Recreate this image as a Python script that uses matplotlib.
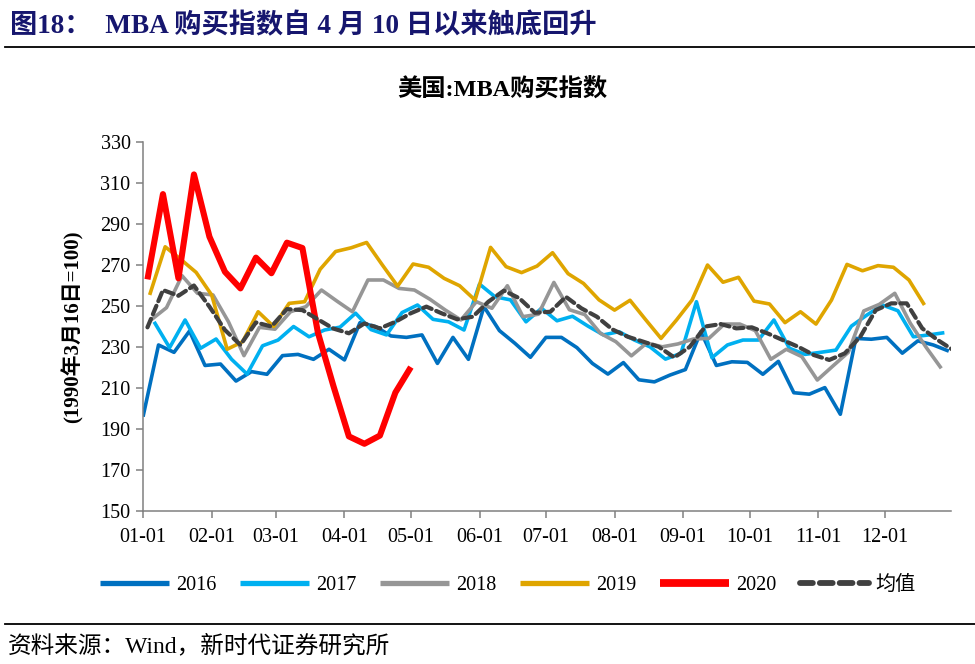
import matplotlib
matplotlib.use("Agg")
import matplotlib.pyplot as plt
import numpy as np

plt.rcParams['font.family'] = ['Liberation Serif', 'Noto Sans CJK SC']

# ---- data (weekly MBA purchase index) ----
years = ["2016", "2017", "2018", "2019", "2020", "均值"]
start_day = [0, 5, 3.6, 3, 2, 2]   # day-of-year of first weekly point

v2016 = [196, 231, 227.4, 237.8, 221, 221.7, 213.4, 218, 216.7, 225.8, 226.4, 224,
         228.9, 223.7, 241.9, 240, 235.4, 234.7, 235.9, 222, 234.7, 224, 249.7, 238,
         231.8, 225, 234.7, 234.7, 229.7, 222, 216.8, 222.4, 214, 213, 216.3, 219,
         237.5, 221, 222.8, 222.5, 216.7, 223, 207.7, 207, 210.2, 197.2, 234.2, 233.8,
         234.7, 227, 233, 231, 228]
v2017 = [242.3, 229.7, 243.2, 229.4, 233.9, 224, 216.8, 230.6, 233.4, 240, 235, 238.3,
         239.7, 246.5, 238.5, 235.9, 246.8, 250.5, 243.5, 242.3, 238.3, 260.7, 254.5, 253,
         242.3, 248.9, 242.8, 245, 240.2, 235.9, 237.5, 233.4, 230.1, 224.1, 226.9, 252.1,
         224.8, 231, 233.4, 233.4, 243.2, 229.4, 226.4, 227.4, 228.5, 240.2, 245.6, 250.5,
         247.7, 235, 235.9, 237]
v2018 = [243.2, 249.2, 264.8, 256.2, 255.4, 242.3, 225.8, 239.6, 238.7, 247.2, 249.7, 257.8,
         252.4, 247.2, 262.7, 262.7, 258.6, 257.8, 253.3, 248, 243.2, 252.1, 248.9, 259.9,
         244.8, 246, 261.5, 248.2, 245.8, 236.7, 232.6, 225.7, 232, 230.1, 231.5, 233.9,
         234.2, 241.2, 241.2, 238, 224, 228.9, 225.3, 213.9, 220.7, 227.4, 247.6, 250.8,
         256.2, 241.6, 230.1, 219.6]
v2019 = [255.4, 278.9, 272.8, 266.4, 255.4, 228.9, 232.6, 247.2, 240, 251.3, 252.1, 267.9,
         276.6, 278.4, 281, 270.2, 259.7, 270.5, 268.9, 263.5, 259.9, 252.9, 278.6, 269.2,
         266.3, 269.5, 276, 265.8, 261, 253, 248, 252.8, 243.4, 234.2, 243.2, 252.9,
         270, 261.6, 264, 252.4, 251, 241.9, 247.2, 241.2, 252.9, 270.3, 267.2, 269.7,
         268.9, 262.7, 250.5]
v2020 = [263, 304.6, 263.5, 314.2, 283.8, 266.7, 258.6, 273.6, 266, 280.9, 278.3, 237,
         211, 186.4, 182.8, 186.8, 207.8, 220.2]
vmean = [239.6, 257.8, 255, 260, 249.7, 238.3, 231, 242, 240, 248.5, 248, 243.5,
         239, 236.7, 241.5, 239.1, 242.3, 246.5, 249.7, 246.4, 243.5, 244.8, 252.1, 257.5,
         253.8, 246.7, 247.2, 254.5, 248.9, 244.8, 238.6, 235, 232.6, 230.1, 224.9, 230.1,
         240, 241.2, 239.1, 239.6, 236.7, 233.4, 230.1, 226.1, 223.7, 226.9, 235, 248,
         251.3, 251.3, 239.1, 233.4, 228.5]

month_labels = ["01-01", "02-01", "03-01", "04-01", "05-01", "06-01",
                "07-01", "08-01", "09-01", "10-01", "11-01", "12-01"]
y_ticks = [150, 170, 190, 210, 230, 250, 270, 290, 310, 330]

series = [v2016, v2017, v2018, v2019, v2020, vmean]
colors = ["#0070C0", "#00B0F0", "#969696", "#DFA500", "#FF0000", "#404040"]
widths = [2.6, 2.6, 2.6, 2.6, 4.4, 3.0]
styles = ["-", "-", "-", "-", "-", (0, (2.2, 1.2))]

# month-start positions (day of year, leap year calendar)
month_pos = (np.array(["2020-%02d-01" % m for m in range(1, 13)], dtype="datetime64[D]")
             - np.datetime64("2020-01-01")).astype(int)

fig = plt.figure(figsize=(9.75, 6.64), dpi=100)
ax = fig.add_axes([0.1467, 0.2304, 0.8287, 0.5557])

for vals, s0, c, lw, ls, name in zip(series, start_day, colors, widths, styles, years):
    x = s0 + 7 * np.arange(len(vals))
    ax.plot(x, vals, color=c, lw=lw, ls=ls, label=name,
            solid_capstyle="butt", dash_capstyle="round")

ax.set_xlim(0, 365)
ax.set_ylim(150, 330)
ax.set_yticks(y_ticks)
ax.set_xticks(month_pos)
ax.set_xticklabels(month_labels)
for sp in ["top", "right"]:
    ax.spines[sp].set_visible(False)
for sp in ["left", "bottom"]:
    ax.spines[sp].set_color("#808080")
    ax.spines[sp].set_linewidth(1.1)
ax.tick_params(axis="both", direction="out", length=5, width=1.1, color="#808080",
               labelsize=14.5, labelcolor="black")
ax.tick_params(axis="x", pad=7)
ax.tick_params(axis="y", pad=4)

ax.set_ylabel("(1990年3月16日=100)", fontsize=15, fontweight="bold", labelpad=12)

leg = fig.legend(loc="center", bbox_to_anchor=(0.521, 0.118), ncol=6, frameon=False,
                 fontsize=14.5, handlelength=3.4, handletextpad=0.35, columnspacing=1.2)
for h in leg.get_lines():
    h.set_linewidth(h.get_linewidth() + 1.2)

# titles and rules
fig.text(0.010, 0.960, "图18：  MBA 购买指数自 4 月 10 日以来触底回升", fontsize=19.6,
         fontweight="bold", color="#16166E", ha="left", va="center")
fig.add_artist(plt.Line2D([0.005, 1.0], [0.929, 0.929], color="black", lw=1.3))
fig.text(0.515, 0.864, "美国:MBA购买指数", fontsize=17.5, fontweight="bold",
         ha="center", va="center")
fig.add_artist(plt.Line2D([0.005, 1.0], [0.060, 0.060], color="black", lw=1.3))
fig.text(0.008, 0.027, "资料来源：Wind，新时代证券研究所", fontsize=17,
         ha="left", va="center")

fig.savefig("out.png", dpi=100)
